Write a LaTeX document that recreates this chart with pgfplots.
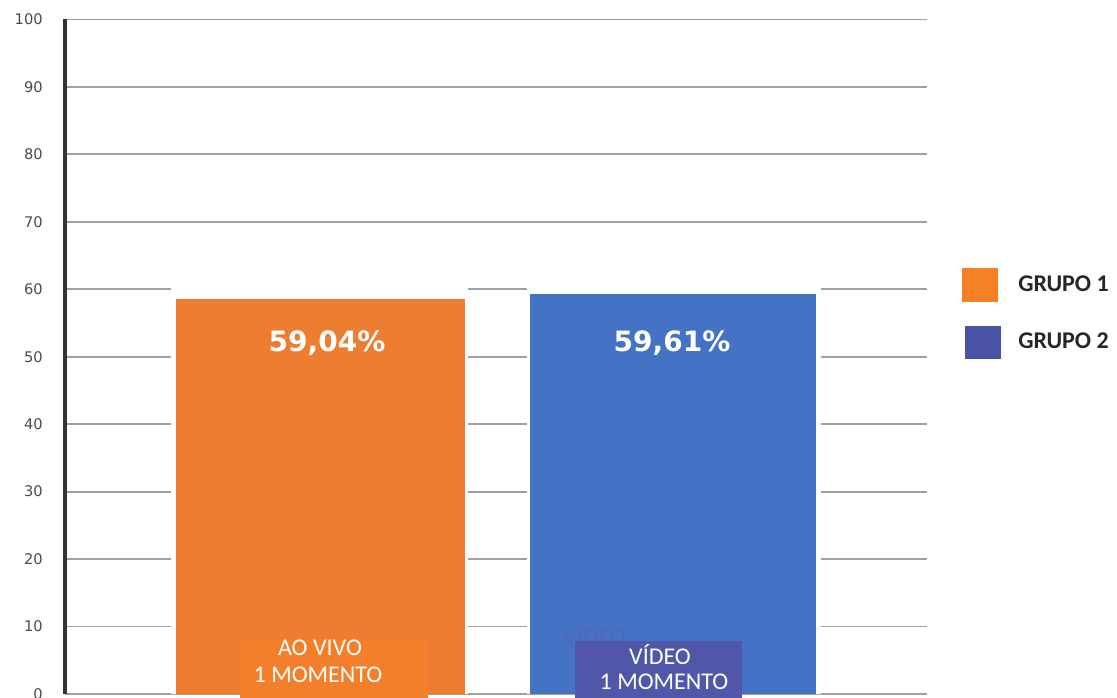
\documentclass[border=0pt]{standalone}
\usepackage{pgfplots}
\pgfplotsset{compat=1.18}
\usepackage{fontspec}
\setmainfont{DejaVu Sans}
\newfontfamily\carlito{Carlito}
\definecolor{barorange}{HTML}{ED7D31}
\definecolor{barblue}{HTML}{4472C4}
\definecolor{legorange}{HTML}{F58025}
\definecolor{legblue}{HTML}{4A52A5}
\definecolor{laborange}{HTML}{F47F2B}
\definecolor{labblue}{HTML}{5057A8}
\definecolor{ghostblue}{HTML}{5566B4}
\definecolor{gridgray}{HTML}{A0A0A0}
\definecolor{ticktext}{HTML}{4A4A4A}
\definecolor{legtext}{HTML}{262626}
\begin{document}
\begin{tikzpicture}
\begin{axis}[
  at={(0pt,0pt)}, anchor=origin,
  scale only axis, width=646.5pt, height=505.875pt,
  xmin=0, xmax=862, ymin=0, ymax=100,
  axis line style={draw=none},
  xtick=\empty,
  ytick={0,10,...,100},
  major tick length=0pt,
  ymajorgrids,
  grid style={gridgray, line width=1.4pt},
  yticklabel style={font=\fontsize{11}{13}\selectfont, text=ticktext, anchor=east, inner xsep=0pt, xshift=-16.5pt},
  /pgf/number format/assume math mode=true,
  clip=false,
]
\addplot[ybar, bar shift=0pt, bar width=297, fill=white, draw=none] coordinates {(254.5,60.3)};
\addplot[ybar, bar shift=0pt, bar width=294, fill=white, draw=none] coordinates {(609,60.3)};
\addplot[ybar, bar shift=0pt, bar width=289, fill=barorange, draw=none] coordinates {(255.5,58.5)};
\addplot[ybar, bar shift=0pt, bar width=286, fill=barblue, draw=none] coordinates {(608,59.3)};
\draw[black!80, line width=2.4pt] (axis cs:0,0) -- (axis cs:0,100);
\end{axis}
\begin{scope}[xshift=-48.75pt, yshift=520.5pt, x=0.75pt, y=-0.75pt]
\node[font=\bfseries\fontsize{21}{24}\selectfont, text=white] at (327,343) {59,04\%};
\node[font=\bfseries\fontsize{21}{24}\selectfont, text=white] at (672,343) {59,61\%};
\node[font=\carlito\fontsize{18}{20}\selectfont, text=ghostblue] at (595,636) {VÍDEO};
\fill[laborange] (240,640) rectangle (428,700);
\fill[labblue] (575,641) rectangle (742,700);
\node[font=\carlito\fontsize{18}{20}\selectfont, text=white] at (320,648) {AO VIVO};
\node[font=\carlito\fontsize{18}{20}\selectfont, text=white] at (318,675) {1 MOMENTO};
\node[font=\carlito\fontsize{18}{20}\selectfont, text=white] at (660,655) {VÍDEO};
\node[font=\carlito\fontsize{18}{20}\selectfont, text=white] at (664,682) {1 MOMENTO};
\fill[legorange] (962,268) rectangle (998,302);
\fill[legblue] (965,326) rectangle (1001,359);
\node[anchor=west, inner sep=0pt, font=\carlito\bfseries\fontsize{18}{20}\selectfont, text=legtext] at (1018,284) {GRUPO 1};
\node[anchor=west, inner sep=0pt, font=\carlito\bfseries\fontsize{18}{20}\selectfont, text=legtext] at (1018,341) {GRUPO 2};
\pgfresetboundingbox
\useasboundingbox (0,0) rectangle (1117,697);
\end{scope}
\end{tikzpicture}
\end{document}
